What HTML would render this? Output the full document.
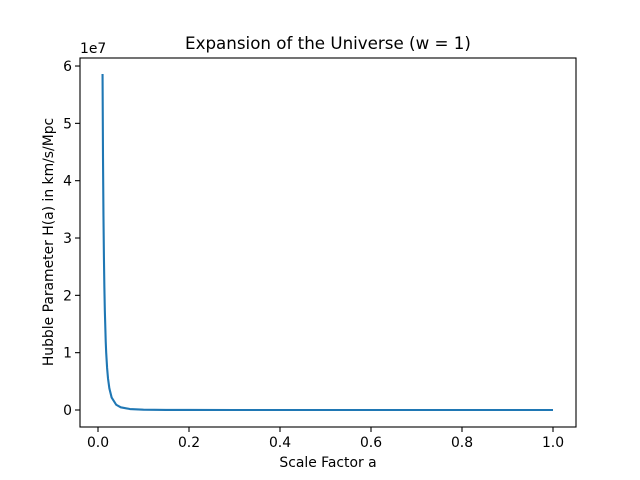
<!DOCTYPE html>
<html><head><meta charset="utf-8"><style>body{margin:0;background:#fff}svg{display:block;font-family:"DejaVu Sans","Liberation Sans",sans-serif}</style></head>
<body>
<svg id="chart" width="640" height="480">
<rect width="640" height="480" fill="#fff"/>
<text x="328" y="49" font-size="16.7" text-anchor="middle">Expansion of the Universe (w = 1)</text>
<text x="328" y="467" font-size="13.9" text-anchor="middle">Scale Factor a</text>
<text transform="translate(53,242) rotate(-90)" font-size="13.9" text-anchor="middle">Hubble Parameter H(a) in km/s/Mpc</text>
<text x="80" y="53" font-size="13.9">1e7</text>
<g id="ticks"></g>
<g id="series"></g>
<rect x="80" y="58" width="496" height="369" fill="none" stroke="#000" stroke-width="1.1"/>
</svg>
<script>
const aValues=[0.01,0.011,0.012,0.013,0.014,0.015,0.017,0.018,0.02,0.022,0.025,0.03,0.04,0.05,0.07,0.1,0.15,0.2,0.3,0.5,0.7,1.0];
const hValues=[5.86e7,4.40e7,3.39e7,2.67e7,2.14e7,1.736e7,1.19e7,1.0e7,7.33e6,5.5e6,3.75e6,2.17e6,9.16e5,4.69e5,1.71e5,5.86e4,1.74e4,7.3e3,2.2e3,469,171,59];
const xTicks=[0,0.2,0.4,0.6,0.8,1.0];
const xTickLabels=["0.0","0.2","0.4","0.6","0.8","1.0"];
const yTicks=[0,1,2,3,4,5,6];
const yTickLabels=["0","1","2","3","4","5","6"];
const NS="http://www.w3.org/2000/svg";
function xs(v){return 98+v*455;}
function ys(v){return 410-v*57.33;}
const tg=document.getElementById('ticks');
function mk(t,at,p){const e=document.createElementNS(NS,t);for(const k in at)e.setAttribute(k,at[k]);p.appendChild(e);return e;}
xTicks.forEach((v,i)=>{const x=xs(v);
 const l=mk('line',{x1:x,x2:x,y1:427,y2:432,stroke:'#000','stroke-width':1.1},tg);
 
 
 const t=mk('text',{x:x,y:447,'font-size':13.9,'text-anchor':'middle'},tg);t.textContent=xTickLabels[i];
 
 });
yTicks.forEach((v,i)=>{const y=ys(v);
 const l=mk('line',{x1:75,x2:80,y1:y,y2:y,stroke:'#000','stroke-width':1.1},tg);
 
 
 const t=mk('text',{x:72,y:y+5,'font-size':13.9,'text-anchor':'end'},tg);t.textContent=yTickLabels[i];
 
 });
const pts=aValues.map((a,i)=>xs(a).toFixed(2)+','+ys(hValues[i]/1e7).toFixed(2)).join(' ');
const pl=mk('polyline',{points:pts,fill:'none',stroke:'#1f77b4','stroke-width':2.1,'stroke-linejoin':'round'},document.getElementById('series'));


</script>
</body></html>
